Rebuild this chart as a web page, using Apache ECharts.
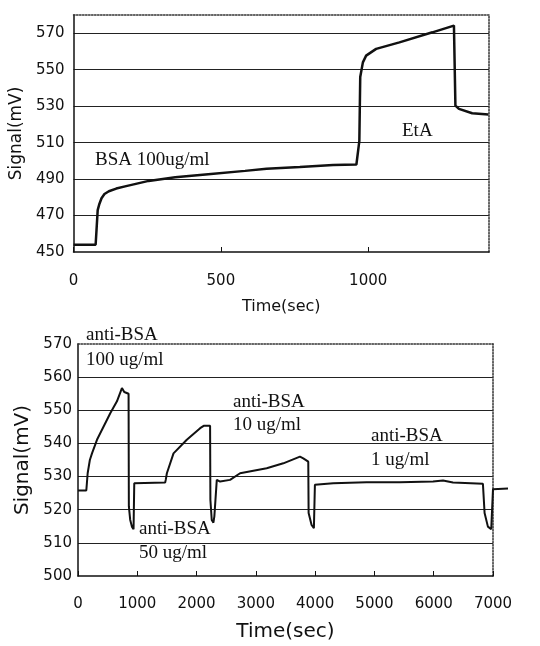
<!DOCTYPE html>
<html>
<head>
<meta charset="utf-8">
<script src="https://cdn.jsdelivr.net/npm/echarts@6/dist/echarts.min.js"></script>
<style>
  html, body { margin: 0; padding: 0; background: #fff; }
  #chart { width: 540px; height: 646px; }
</style>
</head>
<body>
<div id="chart"></div>
<script>
// 上のグラフ: BSA 固定化と EtA ブロッキング
const topTime = [0, 75, 78, 82, 88, 95, 105, 120, 145, 175, 215, 255, 345, 457, 582, 655, 768, 881, 960, 966, 970, 973, 982, 993, 1027, 1106, 1218, 1291, 1293, 1296, 1308, 1353, 1408];
const topSignal = [454, 454, 462, 473, 476.5, 479.5, 481.8, 483.3, 484.8, 486, 487.5, 489, 491, 492.7, 494.5, 495.6, 496.6, 497.7, 498, 498.5, 511, 546, 554, 557.7, 561.4, 565, 570.5, 574.2, 574, 530.3, 528.5, 526.1, 525.4];

// 下のグラフ: anti-BSA 各濃度の応答 (最後は 7000 秒を少しはみ出す)
const bottomTime = [0, 140, 150, 163, 200, 236, 320, 432, 544, 657, 741, 780, 853, 858, 880, 909, 937, 949, 960, 1470, 1480, 1499, 1611, 1835, 2060, 2120, 2228, 2233, 2256, 2284, 2300, 2341, 2397, 2565, 2734, 3183, 3463, 3744, 3800, 3884, 3890, 3940, 3979, 3996, 4305, 4866, 5428, 5989, 6157, 6325, 6830, 6858, 6914, 6970, 7000, 7253];
const bottomSignal = [525.8, 525.8, 528, 531, 535, 537, 541.1, 545.1, 549.1, 552.7, 556.7, 555.5, 555, 521, 517, 514.9, 514.1, 528, 528.2, 528.2, 529, 531, 537, 541.1, 544.6, 545.3, 545.3, 523, 516.9, 516.1, 518, 529, 528.5, 529, 531, 532.5, 534, 536, 535.5, 534.5, 519, 515.4, 514.4, 527.5, 528, 528.3, 528.3, 528.5, 528.8, 528.2, 527.8, 519, 514.9, 514.1, 526.2, 526.4];

const topXTicks = { min: 0, max: 1410, interval: 500 };
const topYTicks = { min: 450, max: 580, interval: 20 };
const bottomXTicks = { min: 0, max: 7000, interval: 1000 };
const bottomYTicks = { min: 500, max: 570, interval: 10 };
// 線だけを描く見えない軸 (7000 の外まで線を伸ばすため)
const bottomLineX = { min: 0, max: 7300 };

const SANS = '"DejaVu Sans", sans-serif';
const SERIF = '19px "Liberation Serif", serif';
const INK = '#111';

function zip(xs, ys) {
  return xs.map((x, i) => [x, ys[i]]);
}

// 点線の外枠 (上辺・右辺) 用の補助軸
function borderAxis(gridIndex, position, range) {
  return {
    gridIndex: gridIndex,
    position: position,
    type: 'value',
    min: range.min,
    max: range.max,
    axisLine: { show: true, onZero: false, lineStyle: { color: '#333', width: 1.5, type: 'dotted' } },
    axisTick: { show: false },
    axisLabel: { show: false },
    splitLine: { show: false },
  };
}

function hiddenAxis(gridIndex, range) {
  return { gridIndex: gridIndex, type: 'value', min: range.min, max: range.max, show: false };
}

function mainXAxis(gridIndex, range, name, nameSize, nameGap, labelMargin, hideMax) {
  return {
    gridIndex: gridIndex,
    type: 'value',
    min: range.min,
    max: range.max,
    interval: range.interval,
    name: name,
    nameLocation: 'middle',
    nameGap: nameGap,
    nameTextStyle: { fontFamily: SANS, fontSize: nameSize, color: INK },
    axisLine: { show: true, onZero: false, lineStyle: { color: INK, width: 1.5 } },
    axisTick: { show: true, inside: true, length: 5, lineStyle: { color: INK } },
    axisLabel: {
      fontFamily: SANS,
      fontSize: 15,
      color: INK,
      margin: labelMargin,
      showMaxLabel: !hideMax,
      formatter: (v) => String(v),
    },
    splitLine: { show: false },
  };
}

function mainYAxis(gridIndex, range, name, nameSize, nameGap, labelMargin, hideMax) {
  return {
    gridIndex: gridIndex,
    type: 'value',
    min: range.min,
    max: range.max,
    interval: range.interval,
    name: name,
    nameLocation: 'middle',
    nameRotate: 90,
    nameGap: nameGap,
    nameTextStyle: { fontFamily: SANS, fontSize: nameSize, color: INK },
    axisLine: { show: true, onZero: false, lineStyle: { color: INK, width: 1.5 } },
    axisTick: { show: false },
    axisLabel: {
      fontFamily: SANS,
      fontSize: 15,
      color: INK,
      margin: labelMargin,
      showMaxLabel: !hideMax,
      formatter: (v) => String(v),
    },
    splitLine: { show: true, showMinLine: false, showMaxLine: false, lineStyle: { color: '#222', width: 1 } },
  };
}

function note(text, x, y) {
  return {
    type: 'text',
    x: x,
    y: y,
    style: { text: text, font: SERIF, fill: INK, verticalAlign: 'middle' },
  };
}

const bottomWidth = 415;
const chart = echarts.init(document.getElementById('chart'));
chart.setOption({
  animation: false,
  backgroundColor: '#fff',
  grid: [
    { left: 73, top: 15, width: 416, height: 237 },
    { left: 78, top: 344, width: bottomWidth, height: 232 },
    // 下のグラフと同じ目盛りで右に少し広げた領域
    { left: 78, top: 344, width: bottomWidth * bottomLineX.max / bottomXTicks.max, height: 232 },
  ],
  xAxis: [
    mainXAxis(0, topXTicks, 'Time(sec)', 16, 47, 22, true),
    borderAxis(0, 'top', topXTicks),
    mainXAxis(1, bottomXTicks, 'Time(sec)', 20, 46, 21, false),
    borderAxis(1, 'top', bottomXTicks),
    hiddenAxis(2, bottomLineX),
  ],
  yAxis: [
    mainYAxis(0, topYTicks, 'Signal(mV)', 17, 48, 9, true),
    borderAxis(0, 'right', topYTicks),
    mainYAxis(1, bottomYTicks, 'Signal(mV)', 20, 45, 6, false),
    borderAxis(1, 'right', bottomYTicks),
    hiddenAxis(2, bottomYTicks),
  ],
  series: [
    {
      type: 'line',
      xAxisIndex: 0,
      yAxisIndex: 0,
      data: zip(topTime, topSignal),
      showSymbol: false,
      lineStyle: { color: INK, width: 2.5 },
    },
    {
      type: 'line',
      xAxisIndex: 4,
      yAxisIndex: 4,
      data: zip(bottomTime, bottomSignal),
      showSymbol: false,
      lineStyle: { color: INK, width: 2 },
    },
  ],
  graphic: [
    note('BSA 100ug/ml', 95, 160),
    note('EtA', 402, 131),
    note('anti-BSA', 86, 335),
    note('100 ug/ml', 86, 360),
    note('anti-BSA', 233, 402),
    note('10 ug/ml', 233, 425),
    note('anti-BSA', 371, 436),
    note('1 ug/ml', 371, 460),
    note('anti-BSA', 139, 529),
    note('50 ug/ml', 139, 553),
  ],
});
</script>
</body>
</html>
